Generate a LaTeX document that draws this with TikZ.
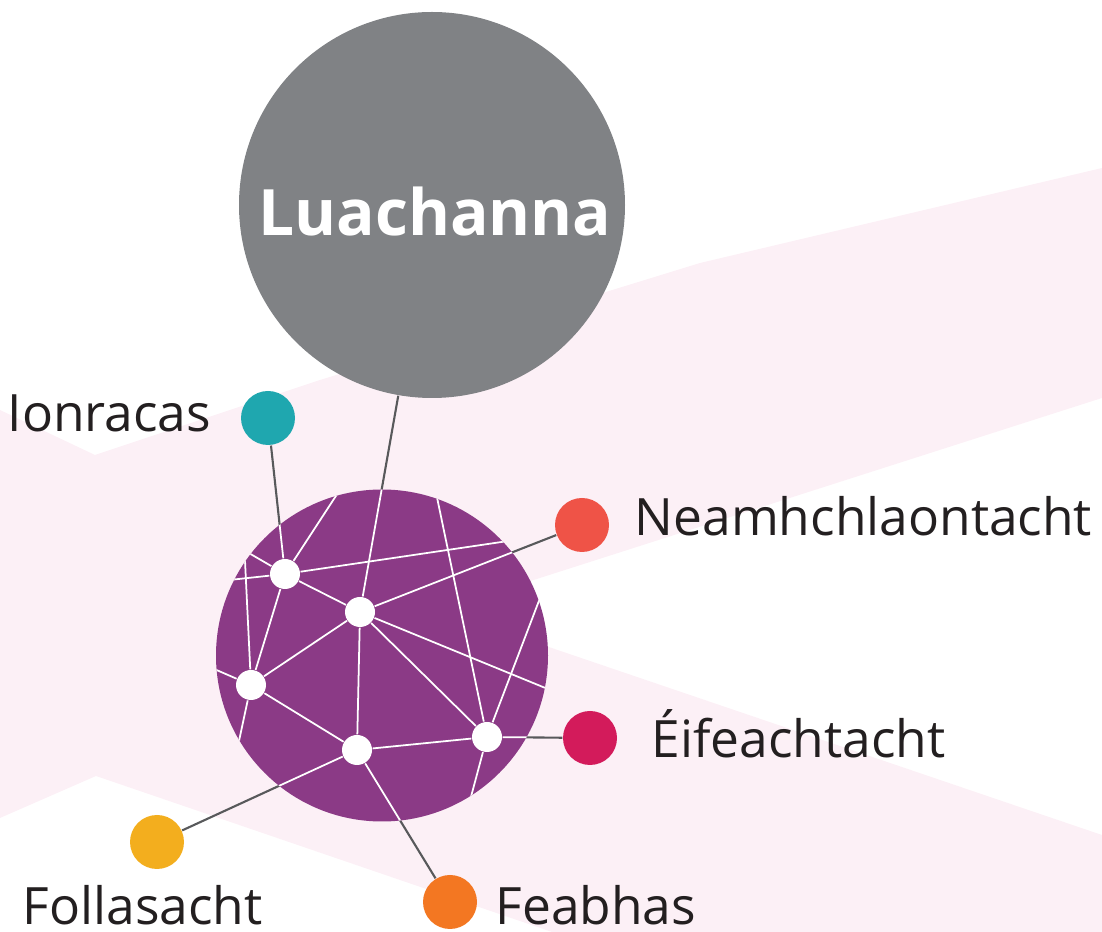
\documentclass[tikz,border=0pt]{standalone}
\usepackage{fontspec}
\setmainfont{Open Sans}
\definecolor{bandpink}{HTML}{FCF0F6}
\definecolor{stone}{HTML}{808285}
\definecolor{plum}{HTML}{8B3A86}
\definecolor{ink}{HTML}{231F20}
\definecolor{linkgrey}{HTML}{58595B}
\definecolor{teal}{HTML}{1FA7AF}
\definecolor{coral}{HTML}{EF5347}
\definecolor{crimson}{HTML}{D31B5B}
\definecolor{amber}{HTML}{F3AE1E}
\definecolor{tangerine}{HTML}{F37722}
\pgfdeclarelayer{back}
\pgfdeclarelayer{links}
\pgfsetlayers{back,links,main}
\begin{document}
\begin{tikzpicture}[
    dot/.style={circle, inner sep=0pt, minimum size=0.54cm},
    knot/.style={circle, fill=white, inner sep=0pt, minimum size=0.30cm},
    word/.style={anchor=base west, inner sep=0pt, text=ink, font=\fontsize{14.65}{18}\selectfont},
    web/.style={white, line width=0.5pt},
    link/.style={linkgrey, line width=0.6pt}]
                \useasboundingbox (0,0) rectangle (11.02,9.32);
                \begin{pgfonlayer}{back}
                \fill [bandpink] (0,5.22) -- (0.95,4.77) -- (3.20,5.52) -- (7.00,6.69) -- (11.02,7.64) -- (11.02,5.34) -- (4.40,3.22) -- (11.02,0.97) -- (11.02,0) -- (5.52,0) -- (0.96,1.56) -- (0,1.14) -- cycle ;
                \end{pgfonlayer}
                \draw (3.82,2.765) node [circle, fill=plum, inner sep=0pt, minimum size=3.32cm] (globe) {} ;
                \draw (2.85,3.58) node [knot] (n1) {} ;
                \draw (3.60,3.20) node [knot] (n2) {} ;
                \draw (2.51,2.47) node [knot] (n3) {} ;
                \draw (3.57,1.82) node [knot] (n4) {} ;
                \draw (4.87,1.95) node [knot] (n5) {} ;
                \draw (4.32,7.27) node [circle, fill=stone, inner sep=0pt, minimum size=3.86cm] (lu) {} ;
                \draw (4.35,6.96) node [anchor=base, inner sep=0pt, text=white, font=\fontsize{18.2}{22}\selectfont\bfseries] (luText) {Luachanna} ;
                \draw (2.68,5.14) node [dot, fill=teal] (ion) {} ;
                \draw (5.82,4.07) node [dot, fill=coral] (neam) {} ;
                \draw (5.90,1.94) node [dot, fill=crimson] (eif) {} ;
                \draw (1.57,0.90) node [dot, fill=amber] (foll) {} ;
                \draw (4.50,0.30) node [dot, fill=tangerine] (feab) {} ;
                \draw (0.07,5.00) node [word] (ionText) {Ionracas} ;
                \draw (6.34,3.96) node [word] (neamText) {Neamhchlaontacht} ;
                \draw (6.51,1.74) node [word] (eifText) {Éifeachtacht} ;
                \draw (0.22,0.07) node [word] (follText) {Follasacht} ;
                \draw (4.95,0.07) node [word] (feabText) {Feabhas} ;
                \coordinate (rimA) at (3.45,4.50) ;
                \coordinate (rimB) at (2.35,3.87) ;
                \coordinate (rimC) at (2.44,3.92) ;
                \coordinate (rimD) at (2.20,3.51) ;
                \coordinate (rimE) at (5.15,3.92) ;
                \coordinate (rimF) at (5.60,2.38) ;
                \coordinate (rimG) at (2.05,2.67) ;
                \coordinate (rimH) at (2.36,1.77) ;
                \coordinate (rimI) at (4.34,4.49) ;
                \coordinate (rimJ) at (5.45,3.47) ;
                \coordinate (rimK) at (4.68,1.24) ;
                \begin{scope}
                \clip (globe.center) circle (1.66) ;
                \draw [web] (n1) -- (rimA) ;
                \draw [web] (n1) -- (rimB) ;
                \draw [web] (rimC) -- (n3) ;
                \draw [web] (rimD) -- (n1) -- (rimE) ;
                \draw [web] (n1) -- (n2) ;
                \draw [web] (n1) -- (n3) ;
                \draw [web] (n1) -- (ion) ;
                \draw [web] (n2) -- (lu) ;
                \draw [web] (n2) -- (neam) ;
                \draw [web] (n2) -- (n3) ;
                \draw [web] (n2) -- (n4) ;
                \draw [web] (n2) -- (n5) ;
                \draw [web] (n2) -- (rimF) ;
                \draw [web] (n3) -- (rimG) ;
                \draw [web] (n3) -- (rimH) ;
                \draw [web] (n3) -- (n4) ;
                \draw [web] (n4) -- (n5) ;
                \draw [web] (n4) -- (foll) ;
                \draw [web] (n4) -- (feab) ;
                \draw [web] (n5) -- (eif) ;
                \draw [web] (n5) -- (rimI) ;
                \draw [web] (n5) -- (rimJ) ;
                \draw [web] (n5) -- (rimK) ;
                \end{scope}
                \begin{pgfonlayer}{links}
                \draw [link] (ion) -- (n1) ;
                \draw [link] (lu) -- (n2) ;
                \draw [link] (neam) -- (n2) ;
                \draw [link] (eif) -- (n5) ;
                \draw [link] (foll) -- (n4) ;
                \draw [link] (feab) -- (n4) ;
                \end{pgfonlayer}
            \end{tikzpicture}
\end{document}
